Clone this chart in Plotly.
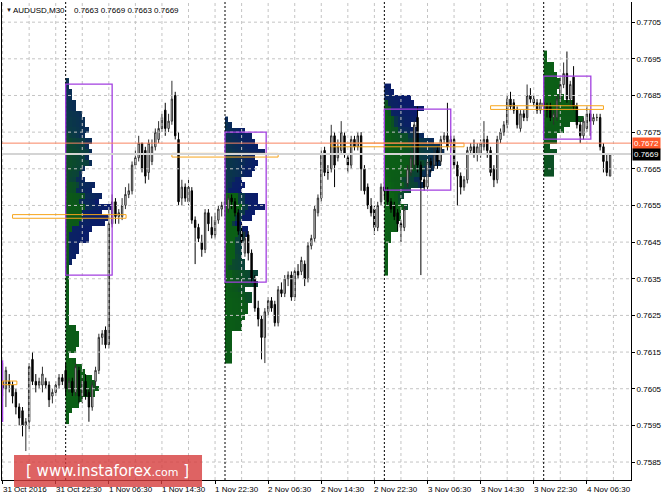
import plotly.graph_objects as go

# ---------------- data (AUDUSD M30, bar 0 = 31 Oct 2016 14:30) ----------------
open_ = [
0.7607,0.7605,0.7607,0.7606,0.7604,0.7600,0.7599,0.7595,0.7596,0.7613,
0.7607,0.7606,0.7606,0.7607,0.7606,0.7603,0.7604,0.7606,0.7608,0.7610,
0.7605,0.7607,0.7604,0.7610,0.7603,0.7607,0.7604,0.7600,0.7607,0.7610,
0.7619,0.7621,0.7617,0.7650,0.7656,0.7652,0.7652,0.7655,0.7658,0.7659,
0.7666,0.7668,0.7672,0.7670,0.7664,0.7667,0.7671,0.7673,0.7676,0.7681,
0.7676,0.7678,0.7685,0.7673,0.7657,0.7660,0.7656,0.7659,0.7651,0.7649,
0.7645,0.7643,0.7653,0.7649,0.7647,0.7651,0.7654,0.7655,0.7654,0.7657,
0.7656,0.7653,0.7648,0.7642,0.7647,0.7642,0.7635,0.7627,0.7624,0.7619,
0.7626,0.7629,0.7628,0.7623,0.7632,0.7631,0.7635,0.7636,0.7630,0.7637,
0.7637,0.7639,0.7635,0.7644,0.7646,0.7653,0.7657,0.7670,0.7664,0.7665,
0.7674,0.7668,0.7670,0.7674,0.7668,0.7666,0.7673,0.7671,0.7674,0.7665,
0.7660,0.7655,0.7654,0.7649,0.7656,0.7660,0.7659,0.7656,0.7655,0.7653,
0.7650,0.7649,0.7661,0.7664,0.7666,0.7679,0.7666,0.7662,0.7660,0.7667,
0.7666,0.7670,0.7667,0.7673,0.7674,0.7672,0.7673,0.7666,0.7663,0.7660,
0.7662,0.7670,0.7671,0.7669,0.7669,0.7671,0.7673,0.7670,0.7665,0.7662,
0.7673,0.7675,0.7677,0.7684,0.7683,0.7681,0.7676,0.7680,0.7679,0.7685,
0.7684,0.7683,0.7681,0.7683,0.7682,0.7682,0.7679,0.7679,0.7684,0.7688,
0.7691,0.7684,0.7690,0.7682,0.7677,0.7674,0.7676,0.7680,0.7678,0.7679,
0.7679,0.7671,0.7667,0.7663]

high_ = [
0.7612,0.7611,0.7609,0.7607,0.7605,0.7601,0.7600,0.7597,0.7612,0.7615,
0.7609,0.7608,0.7611,0.7608,0.7607,0.7605,0.7607,0.7609,0.7609,0.7612,
0.7608,0.7608,0.7612,0.7611,0.7608,0.7609,0.7605,0.7607,0.7611,0.7620,
0.7621,0.7622,0.7654,0.7658,0.7657,0.7654,0.7657,0.7660,0.7661,0.7667,
0.7670,0.7674,0.7672,0.7671,0.7673,0.7673,0.7676,0.7678,0.7680,0.7683,
0.7680,0.7689,0.7686,0.7675,0.7662,0.7661,0.7662,0.7660,0.7652,0.7650,
0.7647,0.7654,0.7654,0.7652,0.7653,0.7655,0.7656,0.7658,0.7658,0.7658,
0.7657,0.7654,0.7650,0.7648,0.7648,0.7643,0.7636,0.7629,0.7625,0.7627,
0.7630,0.7630,0.7629,0.7633,0.7634,0.7636,0.7637,0.7637,0.7638,0.7639,
0.7641,0.7640,0.7645,0.7647,0.7655,0.7658,0.7670,0.7671,0.7666,0.7677,
0.7675,0.7673,0.7678,0.7675,0.7669,0.7674,0.7674,0.7675,0.7675,0.7666,
0.7661,0.7657,0.7655,0.7656,0.7661,0.7662,0.7660,0.7657,0.7656,0.7654,
0.7651,0.7655,0.7666,0.7670,0.7678,0.7682,0.7667,0.7663,0.7668,0.7668,
0.7671,0.7671,0.7674,0.7675,0.7683,0.7674,0.7674,0.7667,0.7664,0.7663,
0.7671,0.7672,0.7673,0.7672,0.7673,0.7678,0.7674,0.7671,0.7666,0.7674,
0.7676,0.7678,0.7685,0.7686,0.7684,0.7682,0.7681,0.7681,0.7688,0.7687,
0.7685,0.7684,0.7684,0.7684,0.7683,0.7683,0.7681,0.7685,0.7690,0.7694,
0.7697,0.7689,0.7693,0.7683,0.7678,0.7679,0.7682,0.7681,0.7680,0.7680,
0.7680,0.7672,0.7669,0.7669]

low_ = [
0.7603,0.7600,0.7604,0.7601,0.7598,0.7595,0.7592,0.7588,0.7594,0.7606,
0.7604,0.7605,0.7604,0.7605,0.7600,0.7601,0.7603,0.7605,0.7606,0.7603,
0.7604,0.7603,0.7603,0.7601,0.7601,0.7602,0.7596,0.7599,0.7605,0.7609,
0.7617,0.7616,0.7616,0.7649,0.7650,0.7650,0.7651,0.7654,0.7657,0.7658,
0.7665,0.7667,0.7664,0.7661,0.7662,0.7666,0.7670,0.7672,0.7675,0.7674,
0.7675,0.7677,0.7673,0.7655,0.7655,0.7656,0.7655,0.7650,0.7639,0.7645,
0.7641,0.7642,0.7648,0.7646,0.7646,0.7650,0.7652,0.7652,0.7653,0.7654,
0.7652,0.7647,0.7644,0.7641,0.7640,0.7634,0.7626,0.7622,0.7613,0.7612,
0.7625,0.7626,0.7622,0.7622,0.7630,0.7630,0.7633,0.7629,0.7629,0.7635,
0.7636,0.7633,0.7634,0.7643,0.7645,0.7652,0.7656,0.7663,0.7662,0.7664,
0.7660,0.7667,0.7669,0.7668,0.7664,0.7665,0.7670,0.7670,0.7659,0.7658,
0.7654,0.7652,0.7647,0.7648,0.7655,0.7657,0.7655,0.7653,0.7651,0.7648,
0.7645,0.7648,0.7660,0.7663,0.7665,0.7664,0.7636,0.7659,0.7659,0.7664,
0.7665,0.7665,0.7666,0.7672,0.7670,0.7670,0.7665,0.7655,0.7658,0.7659,
0.7661,0.7669,0.7668,0.7667,0.7668,0.7670,0.7668,0.7663,0.7660,0.7661,
0.7672,0.7674,0.7676,0.7681,0.7680,0.7676,0.7675,0.7678,0.7678,0.7683,
0.7682,0.7680,0.7680,0.7681,0.7679,0.7678,0.7677,0.7678,0.7683,0.7687,
0.7683,0.7682,0.7681,0.7676,0.7672,0.7673,0.7675,0.7674,0.7677,0.7678,
0.7670,0.7664,0.7663,0.7663]

close_ = [
0.7605,0.7610,0.7606,0.7603,0.7600,0.7597,0.7595,0.7596,0.7611,0.7607,
0.7606,0.7607,0.7609,0.7606,0.7602,0.7604,0.7606,0.7608,0.7607,0.7605,
0.7607,0.7604,0.7611,0.7603,0.7607,0.7603,0.7600,0.7606,0.7610,0.7619,
0.7620,0.7617,0.7650,0.7656,0.7652,0.7653,0.7655,0.7658,0.7659,0.7666,
0.7668,0.7672,0.7665,0.7663,0.7672,0.7671,0.7675,0.7676,0.7679,0.7676,
0.7678,0.7684,0.7674,0.7656,0.7660,0.7657,0.7660,0.7651,0.7649,0.7646,
0.7643,0.7653,0.7650,0.7647,0.7651,0.7654,0.7655,0.7656,0.7657,0.7656,
0.7653,0.7648,0.7645,0.7646,0.7642,0.7635,0.7627,0.7624,0.7619,0.7626,
0.7629,0.7627,0.7623,0.7632,0.7631,0.7635,0.7636,0.7630,0.7637,0.7636,
0.7640,0.7635,0.7644,0.7646,0.7654,0.7657,0.7669,0.7664,0.7664,0.7674,
0.7666,0.7671,0.7675,0.7669,0.7666,0.7673,0.7671,0.7674,0.7665,0.7659,
0.7655,0.7653,0.7649,0.7655,0.7660,0.7659,0.7656,0.7654,0.7652,0.7650,
0.7649,0.7654,0.7665,0.7668,0.7677,0.7666,0.7662,0.7660,0.7667,0.7666,
0.7669,0.7667,0.7673,0.7674,0.7671,0.7673,0.7666,0.7663,0.7660,0.7662,
0.7670,0.7671,0.7669,0.7671,0.7672,0.7673,0.7670,0.7664,0.7662,0.7673,
0.7675,0.7677,0.7684,0.7682,0.7681,0.7677,0.7680,0.7679,0.7685,0.7684,
0.7683,0.7681,0.7683,0.7682,0.7681,0.7679,0.7680,0.7684,0.7688,0.7691,
0.7684,0.7688,0.7682,0.7677,0.7674,0.7678,0.7680,0.7678,0.7679,0.7679,
0.7671,0.7667,0.7664,0.7669]

assert len(open_) == len(high_) == len(low_) == len(close_)

# time axis labels (every 16 bars)
tick_bars = [0, 16, 32, 48, 64, 80, 96, 112, 128, 144, 160, 176]
tick_labels = ["31 Oct 2016", "31 Oct 22:30", "1 Nov 06:30", "1 Nov 14:30",
               "1 Nov 22:30", "2 Nov 06:30", "2 Nov 14:30", "2 Nov 22:30",
               "3 Nov 06:30", "3 Nov 14:30", "3 Nov 22:30", "4 Nov 06:30"]
price_ticks = [0.7585, 0.7595, 0.7605, 0.7615, 0.7625, 0.7635, 0.7645,
               0.7655, 0.7665, 0.7675, 0.7685, 0.7695, 0.7705]
price_labels = ["%.4f" % p for p in price_ticks]

# market-profile sessions (bar index of 00:00 of each day)
day_start = [19, 67, 115, 163]
# value areas
va_start = [0, 19, 67, 115, 163]
va_end = [0, 33, 79.4, 135, 177.2]
va_high = [0.76128, 0.76881, 0.76750, 0.76813, 0.76903]
va_low = [0.75959, 0.76360, 0.76341, 0.76592, 0.76731]
# points of control
poc_price = [0.76066, 0.7652, 0.76687, 0.76715, 0.76817]
poc_start = [0, 3, 51, 99, 147]
poc_end = [4.3, 37.2, 83, 139, 181]

ref_line = 0.7672     # orange-red level line
last_price = 0.7669   # current bid

title_symbol = "AUDUSD,M30"
title_ohlc = "0.7663 0.7669 0.7663 0.7669"

# ---------------- build ----------------
BIN = 0.00015      # profile price step
POC_H = 0.0001     # height of the POC box
SLOTS = 48
n = len(close_)
X_RANGE = [-0.18, 189.3]
Y_RANGE = [0.75801, 0.77105]
FONT = "Liberation Sans, Arial, sans-serif"

fig = go.Figure()

colorscale = [[0.0, '#0b6414'], [0.35, '#0b5818'], [0.6, '#0a3848'],
              [0.8, '#0a2262'], [1.0, '#0a1a6c']]

for start in day_start:
    end = min(start + SLOTS, n)
    cols = {}
    for i in range(start, end):
        lo = int(round(low_[i] / BIN))
        hi = int(round(high_[i] / BIN))
        for b in range(lo, hi + 1):
            cols.setdefault(b, []).append((i - start) / SLOTS)
    bmin, bmax = min(cols), max(cols)
    width = max(len(v) for v in cols.values())
    z = [[None] * width for _ in range(bmax - bmin + 1)]
    for b, ts in cols.items():
        for k, t in enumerate(ts):
            z[b - bmin][k] = t
    ys = [(bmin + r) * BIN for r in range(bmax - bmin + 1)]
    xs = [start + 0.5 + k for k in range(width)]
    fig.add_trace(go.Heatmap(x=xs, y=ys, z=z, colorscale=colorscale, zmin=0, zmax=1,
                             showscale=False, hoverinfo='skip', zsmooth=False))

# grid (drawn over the profile, under the candles)
gx, gy = [], []
for g in range(0, int(X_RANGE[1]) + 1, 8):
    gx += [g, g, None]
    gy += [Y_RANGE[0], Y_RANGE[1], None]
for p in price_ticks:
    gx += [X_RANGE[0], X_RANGE[1], None]
    gy += [p, p, None]
fig.add_trace(go.Scatter(x=gx, y=gy, mode='lines', hoverinfo='skip',
                         line=dict(color='#c4c4c4', width=1, dash='3px,3px')))

sx, sy = [], []
for s in day_start:
    sx += [s, s, None]
    sy += [Y_RANGE[0], Y_RANGE[1], None]
fig.add_trace(go.Scatter(x=sx, y=sy, mode='lines', hoverinfo='skip',
                         line=dict(color='#000000', width=1, dash='2px,2px')))

fig.add_trace(go.Candlestick(
    x=list(range(n)), open=open_, high=high_, low=low_, close=close_,
    increasing=dict(line=dict(color='#2e2e2e', width=1), fillcolor='#ffffff'),
    decreasing=dict(line=dict(color='#000000', width=1), fillcolor='#000000'),
    whiskerwidth=0, hoverinfo='skip'))

shapes = []
for x0, x1, vh, vl in zip(va_start, va_end, va_high, va_low):
    shapes.append(dict(type='rect', xref='x', yref='y', x0=x0, x1=x1, y0=vl, y1=vh,
                       line=dict(color='#a23fe0', width=1.3), fillcolor='rgba(0,0,0,0)'))
for pp, x0, x1 in zip(poc_price, poc_start, poc_end):
    shapes.append(dict(type='rect', xref='x', yref='y', x0=x0, x1=x1,
                       y0=pp - POC_H / 2, y1=pp + POC_H / 2,
                       line=dict(color='#f7a51c', width=1), fillcolor='rgba(0,0,0,0)'))
shapes.append(dict(type='line', xref='paper', yref='y', x0=0, x1=1, y0=last_price, y1=last_price,
                   line=dict(color='#d4d4d4', width=2)))
shapes.append(dict(type='line', xref='paper', yref='y', x0=0, x1=1, y0=ref_line, y1=ref_line,
                   line=dict(color='#f98462', width=1)))
# watermark plate
shapes.append(dict(type='rect', xref='paper', yref='paper', x0=0.0191, x1=0.318,
                   y0=-0.0146, y1=0.0523, line=dict(width=0),
                   fillcolor='rgba(214,60,60,0.8)', layer='above'))

annotations = []
for tb, tl in zip(tick_bars, tick_labels):
    annotations.append(dict(x=tb, y=0, xref='x', yref='paper', text=tl, showarrow=False,
                            xanchor='left', yanchor='top', xshift=-2, yshift=-3,
                            font=dict(family=FONT, size=8, color='#000000')))
annotations.append(dict(x=1, y=ref_line, xref='paper', yref='y', text="%.4f" % ref_line,
                        showarrow=False, xanchor='left', yanchor='middle', xshift=1,
                        bgcolor='#ff5a2d', borderpad=1,
                        font=dict(family=FONT, size=8, color='#ffffff')))
annotations.append(dict(x=1, y=last_price, xref='paper', yref='y', text="%.4f" % last_price,
                        showarrow=False, xanchor='left', yanchor='middle', xshift=1,
                        bgcolor='#000000', borderpad=1,
                        font=dict(family=FONT, size=8, color='#ffffff')))
annotations.append(dict(x=0, y=1, xref='paper', yref='paper', text="\u25BC", showarrow=False,
                        xanchor='left', yanchor='top', xshift=2, yshift=-3,
                        font=dict(family=FONT, size=6, color='#202020')))
annotations.append(dict(x=0, y=1, xref='paper', yref='paper', text=title_symbol, showarrow=False,
                        xanchor='left', yanchor='top', xshift=9, yshift=-2,
                        font=dict(family=FONT, size=8, color='#000000')))
annotations.append(dict(x=0, y=1, xref='paper', yref='paper', text=title_ohlc, showarrow=False,
                        xanchor='left', yanchor='top', xshift=70, yshift=-2,
                        font=dict(family=FONT, size=8, color='#000000')))
annotations.append(dict(x=0.1685, y=0.0188, xref='paper', yref='paper',
                        text="[ www.instaforex<span style='font-size:11px'>.com</span> ]",
                        showarrow=False, xanchor='center', yanchor='middle',
                        font=dict(family="DejaVu Sans, sans-serif", size=15, color='#ffffff')))

fig.update_layout(
    width=664, height=498,
    margin=dict(l=2, r=33, t=2, b=18, autoexpand=False),
    paper_bgcolor='#ffffff', plot_bgcolor='#ffffff',
    showlegend=False, boxgap=0.4,
    shapes=shapes, annotations=annotations,
    font=dict(family=FONT, size=8, color='#000000'),
    xaxis=dict(range=X_RANGE, showgrid=False, zeroline=False, tickvals=tick_bars,
               showticklabels=False, ticks='outside', ticklen=3, tickcolor='#000000',
               showline=True, linecolor='#000000', linewidth=1,
               rangeslider=dict(visible=False), fixedrange=True),
    yaxis=dict(range=Y_RANGE, side='right', showgrid=False, zeroline=False,
               tickvals=price_ticks, ticktext=price_labels, ticks='outside', ticklen=3,
               tickcolor='#000000', showline=True, linecolor='#000000', linewidth=1,
               mirror=True, tickfont=dict(family=FONT, size=8, color='#000000'),
               fixedrange=True),
)

fig.write_html("out.html", config={'displayModeBar': False},
               post_script="document.body.style.margin='0';document.body.style.overflow='hidden';")
